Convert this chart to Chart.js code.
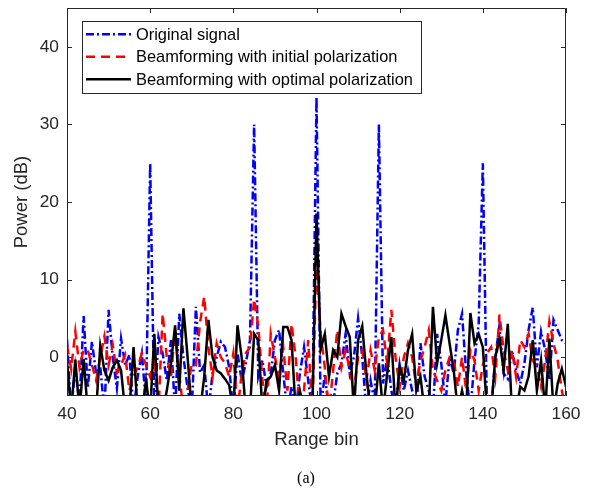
<!DOCTYPE html>
<html><head><meta charset="utf-8">
<script src="https://cdn.jsdelivr.net/npm/chart.js@4.4.0/dist/chart.umd.min.js"></script>
<style>
html,body{margin:0;padding:0;background:#fff;}
#wrap{position:relative;width:593px;height:493px;overflow:hidden;}
#cap{position:absolute;left:0;width:612px;top:469px;text-align:center;font-family:"Liberation Serif","Times New Roman",serif;font-size:16px;color:#000;}
</style></head>
<body><div id="wrap"><canvas id="c" width="593" height="493"></canvas><div id="cap">(a)</div></div>
<script>
const rangeBins = [40,41,42,43,44,45,46,47,48,49,50,51,52,53,54,55,56,57,58,59,60,61,62,63,64,65,66,67,68,69,70,71,72,73,74,75,76,77,78,79,80,81,82,83,84,85,86,87,88,89,90,91,92,93,94,95,96,97,98,99,100,101,102,103,104,105,106,107,108,109,110,111,112,113,114,115,116,117,118,119,120,121,122,123,124,125,126,127,128,129,130,131,132,133,134,135,136,137,138,139,140,141,142,143,144,145,146,147,148,149,150,151,152,153,154,155,156,157,158,159,160];
const originalSignal = [
 2.3,-7,-1.3,-6,5.3,-4,2.0,-2.1,-1.3,-7,
 6.1,0,-4,2.4,-1,0.3,-7,-2.5,0.5,-6,
 25,-7,2.6,0.5,-3,2.2,-7,5.6,0,-4,
 -7,6.5,-2,-1,-7,-2.1,0,2.0,1.3,-1.3,
 -7,0.5,-3,-0.8,2.2,30,-2.5,-0.4,-3.8,-2.1,
 2.2,3.5,-2.1,-7,-3.8,-7,-2.1,1.3,-3,-7,
 33.5,-7,-2.1,-7,-6,-2.1,-0.8,3.0,-2.1,0,
 5.0,0,-7,-3,-6,30,-3.4,0,-4.3,-7,
 -1,-4.3,-1.7,-4.3,-7,1.8,-2.5,-4.3,-7,3.0,
 -0.8,-6,0,-2.1,3.5,5.6,-2.1,-7,-0.4,4.3,
 25,-7,-7,0,4.1,-2.1,-2.8,0.9,-1.7,-3.4,
 -0.8,3.5,6.4,-1.3,3.3,0.9,-3,4.8,3.5,2.2,1.8];
const initialPolarization = [
 1.5,-1.5,3.3,-1.3,1.0,0.9,-1,-3,0,2.7,
 -1,1.6,-2,-1,0.3,-4.3,-2.5,-1.3,0.5,-1,
 -2.5,0,-7,5.6,0,-2.5,3.5,-2.1,-7,-4.3,
 -0.8,-1,4.5,7.8,1.3,-2.5,1.8,0,-0.8,-2.5,
 0.5,-7,-2.1,0.5,1.3,7.5,4,-3,-7,3.0,
 0,-2.5,1.3,-4.3,4.3,0,-7,-4.3,2.2,-7,
 12.5,3.0,-1.3,-7,-1.7,3.5,-1.3,0.9,-1.7,-4.3,
 0,0.9,-3,0.9,-1.7,2.6,3.5,-0.8,6.1,0,
 -3.8,0,1.8,0,-3.8,-0.4,1.3,3.5,-1.7,-3,
 -4.3,-1.7,0,-0.4,-3.8,0,-4.3,0.9,-0.4,-4.3,
 -1,0.5,1.3,-2.5,5.5,0.9,-1.7,0.9,-2.5,2.2,
 1.3,3.0,-0.4,-1.3,-3.8,-0.4,4.6,1.8,-0.4,-4.3,-7];
const optimalPolarization = [
 -0.5,-7,-0.3,-7,-0.2,-7,-7,-7,1.5,-1.7,
 -3,-1.3,-0.4,-1.7,-7,-7,1.3,-7,-7,-3,
 -7,3.0,-7,-7,-4.3,-0.8,4.1,-4.3,6.3,0,
 -7,-7,-7,-2.5,4.8,0,-1.7,-2.1,-2.8,-3.6,
 -7,4.1,0,-7,-7,3.0,2.2,-7,-3,-2.5,
 -1,-4.3,3.9,3.9,2.2,-7,-4.3,-7,-7,-7,
 18.5,1,3,-2.5,0.9,0,5.6,4.0,2.6,-7,
 2.2,4.0,-2.1,-7,-7,-0.8,-7,-2.1,2.6,-7,
 -1.3,-3,0.9,3.0,-4.3,-2.5,-7,-7,6.5,-0.8,
 2.2,5.4,1.8,-1.7,-7,-4.3,-7,5.7,1.8,3.0,
 1.3,-7,-7,0,2.4,-1.7,4.3,-7,-7,-3.8,
 -4.3,-2.5,2.2,-4.3,-0.4,-7,2.4,-7,-3.4,-1.5,-3.8];
const seriesLabels = ['Original signal','Beamforming with initial polarization','Beamforming with optimal polarization'];
const xTickValues = [40,60,80,100,120,140,160];
const yTickValues = [0,10,20,30,40];

const FONT = '"Liberation Sans", Arial, Helvetica, sans-serif';
const AX = '#262626';
const toXY = vals => rangeBins.map((b,i)=>({x:b, y:vals[i]}));

const framePlugin = {
  id:'frame',
  afterDatasetsDraw(chart){
    const {ctx, chartArea:a, scales:{x,y}} = chart;
    ctx.save();
    ctx.strokeStyle = AX; ctx.lineWidth = 1;
    ctx.beginPath();
    ctx.rect(a.left+0.5, a.top+0.5, a.right-a.left-1, a.bottom-a.top-1);
    const L = 5;
    x.ticks.forEach(t=>{
      const px = Math.round(x.getPixelForValue(t.value))+0.5;
      ctx.moveTo(px, a.bottom); ctx.lineTo(px, a.bottom-L);
      ctx.moveTo(px, a.top); ctx.lineTo(px, a.top+L);
    });
    y.ticks.forEach(t=>{
      const py = Math.round(y.getPixelForValue(t.value))+0.5;
      ctx.moveTo(a.left, py); ctx.lineTo(a.left+L, py);
      ctx.moveTo(a.right, py); ctx.lineTo(a.right-L, py);
    });
    ctx.stroke();
    ctx.restore();
  }
};

const legendPlugin = {
  id:'boxLegend',
  afterDraw(chart){
    const {ctx, chartArea:a} = chart;
    const ds = chart.data.datasets;
    ctx.save();
    ctx.font = '16.4px ' + FONT;
    let maxW = 0;
    ds.forEach(d=>{ maxW = Math.max(maxW, ctx.measureText(d.label).width); });
    const bx = a.left + 15, by = a.top + 13;
    const rowH = 22.5, padTop = 13.3;
    const lineStart = 4, lineLen = 45, textGap = 5;
    const bw = lineStart + lineLen + textGap + maxW + 8;
    const bh = padTop*2 + rowH*(ds.length-1);
    ctx.fillStyle = '#fff';
    ctx.fillRect(bx, by, bw, bh);
    ctx.strokeStyle = AX; ctx.lineWidth = 1;
    ctx.strokeRect(Math.round(bx)+0.5, Math.round(by)+0.5, Math.round(bw), Math.round(bh));
    ds.forEach((d,i)=>{
      const cy = by + padTop + i*rowH;
      ctx.beginPath();
      ctx.setLineDash(d.borderDash || []);
      ctx.strokeStyle = d.borderColor; ctx.lineWidth = d.borderWidth;
      ctx.moveTo(bx+lineStart, cy); ctx.lineTo(bx+lineStart+lineLen, cy);
      ctx.stroke();
      ctx.setLineDash([]);
      ctx.fillStyle = '#000';
      ctx.textBaseline = 'middle'; ctx.textAlign = 'left';
      ctx.fillText(d.label, bx+lineStart+lineLen+textGap, cy+1);
    });
    ctx.restore();
  }
};

new Chart(document.getElementById('c'), {
  type:'line',
  data:{ datasets:[
    {label:seriesLabels[0], data:toXY(originalSignal), borderColor:'#0000ff', borderWidth:2.5, borderDash:[8,3,2,3], pointRadius:0, tension:0, order:3, clip:0},
    {label:seriesLabels[1], data:toXY(initialPolarization), borderColor:'#ff0000', borderWidth:2.5, borderDash:[9,6], pointRadius:0, tension:0, order:2, clip:0},
    {label:seriesLabels[2], data:toXY(optimalPolarization), borderColor:'#000000', borderWidth:2.5, pointRadius:0, tension:0, order:1, clip:0}
  ]},
  options:{
    responsive:false, animation:false, devicePixelRatio:1,
    layout:{padding:{left:0, top:8, right:27, bottom:0}},
    plugins:{legend:{display:false}, tooltip:{enabled:false}},
    scales:{
      x:{type:'linear', min:40, max:160,
        afterBuildTicks:s=>{ s.ticks = xTickValues.map(v=>({value:v})); },
        afterFit:s=>{ s.height = 97; s.paddingLeft = 0; s.paddingRight = 0; },
        ticks:{color:AX, font:{family:FONT, size:17.4}, padding:8, maxRotation:0, autoSkip:false},
        grid:{display:false, drawTicks:false}, border:{display:false},
        title:{display:true, text:'Range bin', color:AX, font:{family:FONT, size:18.5}, padding:{top:0, bottom:42}}
      },
      y:{type:'linear', min:-5, max:45,
        afterBuildTicks:s=>{ s.ticks = yTickValues.map(v=>({value:v})); },
        afterFit:s=>{ s.width = 67; s.paddingTop = 0; s.paddingBottom = 0; },
        ticks:{color:AX, font:{family:FONT, size:17.4}, padding:8},
        grid:{display:false, drawTicks:false}, border:{display:false},
        title:{display:true, text:'Power (dB)', color:AX, font:{family:FONT, size:18.5}, padding:{top:11, bottom:0}}
      }
    }
  },
  plugins:[framePlugin, legendPlugin]
});
</script>
</body></html>
